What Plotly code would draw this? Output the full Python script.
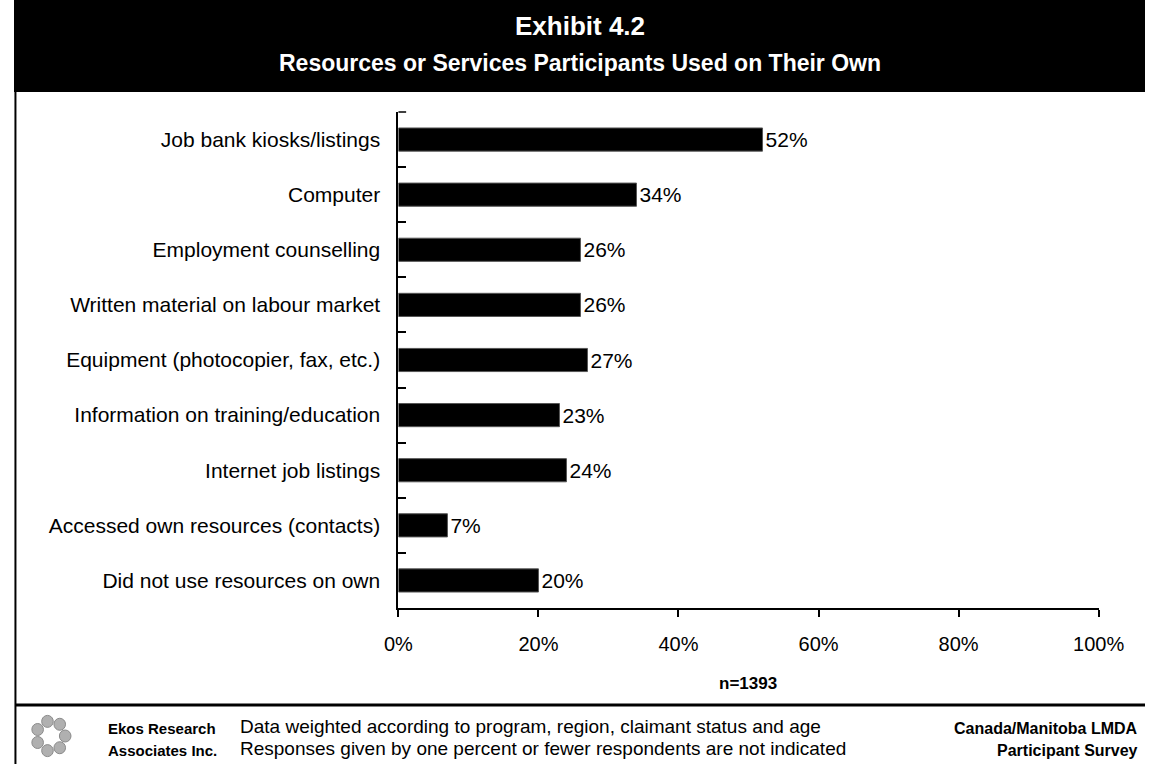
import plotly.graph_objects as go
import math

categories = [
    "Job bank kiosks/listings",
    "Computer",
    "Employment counselling",
    "Written material on labour market",
    "Equipment (photocopier, fax, etc.)",
    "Information on training/education",
    "Internet job listings",
    "Accessed own resources (contacts)",
    "Did not use resources on own",
]
values = [52, 34, 26, 26, 27, 23, 24, 7, 20]
x_ticks = [0, 20, 40, 60, 80, 100]
x_tick_labels = ["0%", "20%", "40%", "60%", "80%", "100%"]

W, H = 1171, 764
FONT = "Arial, Liberation Sans, sans-serif"

def px(x):
    return x / W

def py(y):
    return 1 - y / H

fig = go.Figure()
fig.add_trace(go.Bar(
    x=values, y=categories, orientation="h",
    marker=dict(color="black", line=dict(color="#555555", width=1)),
    width=0.42,
    text=[f"{v}%" for v in values], textposition="outside",
    textfont=dict(family=FONT, size=21, color="black"),
    cliponaxis=False,
))

fig.update_layout(
    width=W, height=H,
    margin=dict(l=0, r=0, t=0, b=0),
    paper_bgcolor="white", plot_bgcolor="white",
    showlegend=False,
    font=dict(family=FONT, color="black"),
    xaxis=dict(
        domain=[px(398), px(1123)],
        range=[0, 100], tickvals=x_ticks, ticktext=x_tick_labels,
        showgrid=False, zeroline=False, showline=True, linecolor="black", linewidth=2,
        ticks="outside", ticklen=7, tickwidth=2, tickcolor="black",
        tickfont=dict(size=20, family=FONT), ticklabelstandoff=10,
    ),
    yaxis=dict(
        domain=[py(608), py(112)],
        autorange="reversed", type="category",
        showgrid=False, zeroline=False, showline=True, linecolor="black", linewidth=2,
        ticks="inside", tickson="boundaries", ticklen=8, tickwidth=1.5, tickcolor="black",
        tickfont=dict(size=21, family=FONT), ticklabelstandoff=12,
    ),
)

shapes = [
    dict(type="rect", xref="paper", yref="paper", x0=0, x1=1, y0=py(92), y1=1,
         fillcolor="black", line=dict(width=0), layer="below"),
    dict(type="line", xref="paper", yref="paper", x0=px(1.5), x1=px(1.5), y0=0, y1=py(92),
         line=dict(color="black", width=2)),
    dict(type="line", xref="paper", yref="paper", x0=px(1.5), x1=1, y0=py(705), y1=py(705),
         line=dict(color="black", width=3)),
    dict(type="line", xref="paper", yref="paper", x0=px(398), x1=px(406), y0=py(112), y1=py(112),
         line=dict(color="black", width=1.5)),
]
# simple grey logo: ring of small circles
cx, cy = 38, 736
for i in range(7):
    a = 2 * math.pi * i / 7
    x0 = cx + 15 * math.cos(a)
    y0 = cy + 15 * math.sin(a)
    shapes.append(dict(type="circle", xref="paper", yref="paper",
                       x0=px(x0 - 6), x1=px(x0 + 6), y0=py(y0 + 6), y1=py(y0 - 6),
                       fillcolor="#b0b0b0", line=dict(color="#8a8a8a", width=1)))
fig.update_layout(shapes=shapes)

ann = [
    dict(text="<b>Exhibit 4.2</b>", x=0.5, y=py(26), size=26, color="white", xanchor="center"),
    dict(text="<b>Resources or Services Participants Used on Their Own</b>", x=0.5, y=py(63), size=23, color="white", xanchor="center"),
    dict(text="<b>n=1393</b>", x=px(760), y=py(683), size=17, color="black", xanchor="center"),
    dict(text="<b>Ekos Research</b>", x=px(95), y=py(728), size=15, color="black", xanchor="left"),
    dict(text="<b>Associates Inc.</b>", x=px(95), y=py(750), size=15, color="black", xanchor="left"),
    dict(text="Data weighted according to program, region, claimant status and age", x=px(232), y=py(726), size=19, color="black", xanchor="left"),
    dict(text="Responses given by one percent or fewer respondents are not indicated", x=px(232), y=py(748), size=19, color="black", xanchor="left"),
    dict(text="<b>Canada/Manitoba LMDA</b>", x=px(1166), y=py(728), size=16, color="black", xanchor="right"),
    dict(text="<b>Participant Survey</b>", x=px(1166), y=py(750), size=16, color="black", xanchor="right"),
]
fig.update_layout(annotations=[
    dict(text=a["text"], x=a["x"], y=a["y"], xref="paper", yref="paper",
         xanchor=a["xanchor"], yanchor="middle", showarrow=False,
         font=dict(family=FONT, size=a["size"], color=a["color"]))
    for a in ann
])

fig.write_html("out.html")
